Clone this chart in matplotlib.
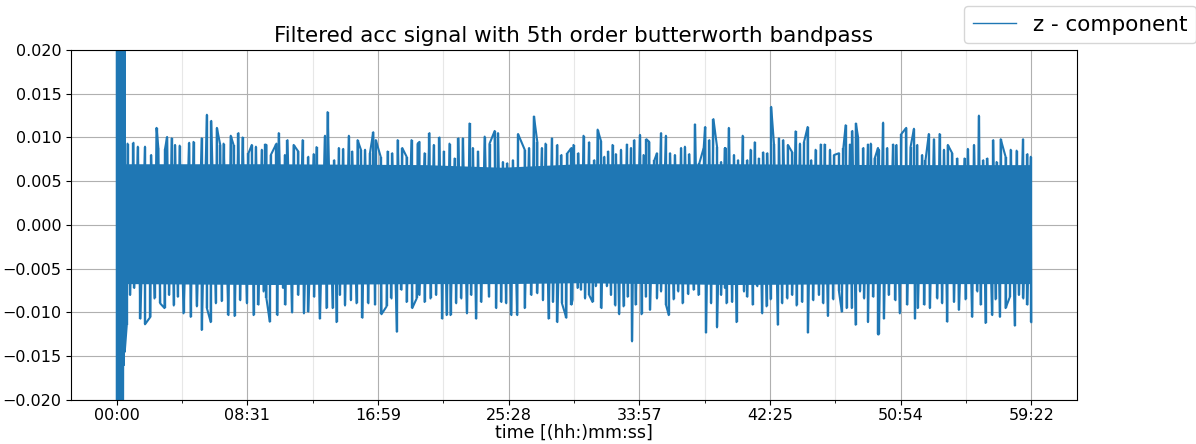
import numpy as np
import matplotlib
matplotlib.use("Agg")
import matplotlib.pyplot as plt

# time axis (seconds) and tick labels
t_end = 3562
tick_labels = ["00:00", "08:31", "16:59", "25:28", "33:57", "42:25", "50:54", "59:22"]

# start-up transient (values in 1e-3, clipped by the y limits)
t_trans = [0, 8, 16, 24, 28, 31]
trans_hi = [30, 30, 30, 30, 30, 30]
trans_lo = [-30, -30, -30, -30, -16, -14.5]

# dense core of the signal (1e-3)
t_core = [31, 600, 1200, 1500, 1800, 2400, 3000, 3562]
core_hi = [7.0, 7.0, 6.9, 6.6, 7.0, 7.0, 6.9, 6.9]
core_lo = [-6.7, -6.8, -6.7, -6.7, -6.6, -6.8, -6.7, -6.7]

# positive peaks (s, 1e-3)
t_up = [42, 65, 82, 110, 134, 155, 162, 188, 196, 214, 227, 245, 282, 299, 331, 351, 368, 390,
        403, 416, 444, 455, 474, 490, 513, 526, 542, 565, 578,
        583, 600, 622, 631, 655, 665, 689, 707, 724, 746, 767, 778, 811, 821, 847, 865, 882, 904,
        917, 938, 951, 967, 986, 999, 1009, 1028, 1055, 1073, 1094, 1112, 1129, 1148, 1172,
        1179, 1199, 1218, 1235, 1257, 1274, 1296, 1316, 1331, 1348, 1374, 1387, 1407, 1433, 1452,
        1472, 1485, 1504, 1521, 1543, 1563, 1589, 1606, 1625, 1638, 1656, 1670, 1695, 1716, 1732,
        1755, 1771,
        1779, 1798, 1818, 1840, 1860, 1873, 1886, 1899, 1914, 1931, 1944, 1964, 1987, 2003, 2016,
        2038, 2052, 2063, 2074, 2094, 2104, 2120, 2139, 2155, 2174, 2198, 2213, 2230, 2252, 2269,
        2286, 2292, 2308, 2324, 2338, 2354, 2369,
        2371, 2384, 2404, 2420, 2438, 2456, 2469, 2485, 2501, 2518, 2534, 2549, 2560, 2579, 2596,
        2614, 2631, 2644, 2661, 2677, 2691, 2705, 2722, 2742, 2757, 2778, 2794, 2813, 2830, 2839,
        2856, 2865, 2879, 2887, 2908, 2926, 2937, 2952, 2965,
        2968, 2985, 3001, 3024, 3037, 3056, 3075, 3092, 3105, 3118, 3137, 3150, 3163, 3183, 3205,
        3222, 3237, 3254, 3274, 3302, 3315, 3339, 3358, 3375, 3391, 3414, 3427, 3443, 3462, 3482,
        3505, 3530, 3547, 3560]
v_up = [9.3, 9.4, 8.95, 8.95, 8.0, 11.1, 8.8, 8.7, 10.06, 9.9, 9.15, 9.07, 9.4, 9.5, 9.9, 12.6, 11.9, 11.1,
        9.15, 9.3, 10.2, 9.15, 10.5, 10.0, 8.2, 9.15, 8.95, 8.6, 9.2,
        9.15, 8.0, 9.3, 10.5, 8.0, 9.7, 9.15, 8.4, 9.7, 7.8, 8.1, 8.9, 10.2, 12.9, 7.4, 8.8, 8.7, 10.2,
        8.4, 9.7, 8.6, 8.6, 8.2, 10.6, 9.7, 7.8, 8.4, 8.2, 9.7, 8.8, 7.8, 9.7, 9.3,
        9.5, 8.2, 10.5, 9.15, 10.0, 8.4, 9.3, 7.6, 9.9, 9.9, 11.6, 8.8, 8.4, 10.1, 9.3,
        10.75, 10.5, 7.2, 7.05, 7.4, 10.4, 8.6, 8.8, 12.4, 9.5, 8.8, 9.3, 9.9, 9.15, 8.0,
        8.2, 8.8,
        9.15, 8.2, 10.2, 9.45, 7.4, 10.9, 9.6, 7.8, 8.4, 9.15, 8.1, 8.6, 9.2, 8.8, 9.7,
        10.3, 8.0, 9.8, 9.5, 7.4, 8.2, 10.5, 10.2, 8.2, 8.0, 8.8, 8.95, 8.1, 11.5, 7.05,
        8.8, 11.2, 9.7, 12.1, 8.95, 7.2, 8.8,
        8.8, 11.1, 8.0, 7.4, 10.2, 7.4, 8.6, 9.45, 7.6, 8.3, 8.2, 13.5, 9.2, 9.9, 9.7,
        9.15, 8.3, 10.7, 9.3, 9.5, 11.2, 7.4, 8.6, 9.2, 9.2, 8.6, 8.0, 8.2, 8.8, 11.4,
        9.2, 10.75, 11.6, 10.1, 8.8, 9.2, 9.3, 7.6, 8.8,
        8.6, 11.7, 8.8, 9.2, 9.15, 10.4, 11.1, 8.95, 11.0, 9.15, 8.0, 7.4, 10.4, 9.8, 10.4,
        8.6, 9.15, 8.2, 7.6, 7.6, 8.7, 9.15, 12.5, 7.4, 7.6, 9.7, 7.2, 9.8, 7.8, 8.6,
        8.5, 9.8, 8.1, 7.8]

# negative peaks (s, 1e-3)
t_lo = [39, 52, 68, 92, 110, 131, 147, 169, 186, 204, 222, 238, 260, 288, 312, 331, 351, 366,
        386, 409, 435, 459, 481, 507, 533, 552, 572,
        583, 596, 626, 648, 657, 683, 707, 729, 746, 769, 791, 817, 841, 856, 869, 889, 912, 934,
        957, 980, 1006, 1031, 1051, 1070, 1091, 1109, 1129, 1151, 1168,
        1179, 1199, 1222, 1244, 1268, 1285, 1300, 1322, 1342, 1364, 1381, 1400, 1420, 1450, 1478,
        1498, 1517, 1537, 1560, 1589, 1615, 1638, 1660, 1682, 1699, 1716, 1734, 1751, 1771,
        1775, 1795, 1808, 1824, 1840, 1853, 1866, 1888, 1909, 1925, 1942, 1957, 1974, 1990, 2007,
        2021, 2044, 2061, 2077, 2104, 2120, 2139, 2150, 2169, 2187, 2204, 2226, 2247, 2266, 2295,
        2315, 2338, 2354, 2369,
        2375, 2397, 2414, 2427, 2443, 2456, 2477, 2495, 2514, 2531, 2547, 2575, 2592, 2612, 2631,
        2648, 2670, 2692, 2713, 2735, 2752, 2770, 2791, 2813, 2824, 2843, 2863, 2878, 2895, 2911,
        2926, 2947, 2965,
        2968, 2988, 3007, 3033, 3050, 3079, 3109, 3120, 3146, 3167, 3196, 3215, 3235, 3261, 3280,
        3306, 3332, 3352, 3365, 3384, 3410, 3423, 3440, 3462, 3479, 3498, 3514, 3531, 3547, 3562]
v_lo = [-11.4, -8.0, -7.2, -10.7, -11.35, -10.5, -8.4, -8.95, -9.5, -8.0, -9.2, -8.2, -10.1, -10.5,
        -9.3, -12.0, -9.5, -11.1, -8.95, -8.7, -10.3, -10.4, -8.6, -8.95, -10.3, -9.1, -7.6,
        -8.4, -11.05, -10.3, -7.2, -9.1, -10.0, -8.0, -10.1, -9.9, -8.2, -10.7, -9.5, -9.5, -11.1,
        -8.0, -9.2, -8.6, -8.95, -10.6, -8.95, -9.1, -10.2, -9.3, -8.4, -12.2, -7.4, -8.8, -9.5, -8.4,
        -8.0, -8.8, -8.4, -8.0, -10.7, -10.3, -10.3, -8.95, -8.4, -10.1, -8.0, -10.7, -8.8, -8.2,
        -9.5, -8.8, -8.95, -10.3, -10.3, -9.5, -8.0, -7.8, -8.6, -10.7, -8.8, -11.1, -8.95, -10.6,
        -9.1,
        -8.6, -7.2, -7.4, -8.4, -8.0, -8.8, -7.0, -9.5, -7.0, -8.0, -9.2, -10.2, -9.3, -8.2, -13.3,
        -9.1, -10.2, -8.2, -9.7, -8.4, -7.6, -9.1, -10.3, -8.5, -7.6, -8.95, -7.9, -7.4, -8.0, -12.3,
        -8.95, -11.7, -8.0, -7.2,
        -8.95, -8.8, -11.1, -6.7, -7.6, -8.2, -9.1, -7.0, -10.1, -9.3, -8.5, -11.4, -8.95, -8.4, -8.0,
        -9.2, -8.8, -12.3, -8.6, -8.0, -8.95, -10.4, -8.5, -7.6, -9.9, -9.5, -9.5, -11.4, -7.6, -8.4,
        -11.1, -8.2, -12.5,
        -12.5, -10.7, -8.0, -8.6, -10.1, -9.1, -10.7, -9.5, -9.1, -9.5, -8.4, -8.95, -11.05, -8.8, -9.7,
        -8.5, -10.5, -7.6, -9.1, -11.2, -10.3, -8.5, -10.5, -9.5, -8.2, -11.5, -8.0, -8.4, -9.1, -11.1]

scale = 1e-3
c = "#1f77b4"

# merge peaks into one time-ordered trace
t_all = np.concatenate([t_trans, t_trans, t_up, t_lo])
v_all = np.concatenate([trans_hi, trans_lo, v_up, v_lo]) * scale
order = np.argsort(t_all, kind="stable")

fig = plt.figure(figsize=(11.96, 4.44), dpi=100)
ax = fig.add_axes([0.0594, 0.0991, 0.8411, 0.7883])

ax.fill_between(t_trans, np.array(trans_lo) * scale, np.array(trans_hi) * scale,
                color=c, lw=0)
ax.fill_between(t_core, np.array(core_lo) * scale, np.array(core_hi) * scale,
                color=c, lw=0)
ax.plot(t_all[order], v_all[order], color=c, lw=1.5, label="z - component")
ax.vlines(t_up, 0, np.array(v_up) * scale, color=c, lw=1.7)
ax.vlines(t_lo, np.array(v_lo) * scale, 0, color=c, lw=1.7)

ax.set_ylim(-0.02, 0.02)
ax.set_xlim(-0.05 * t_end, 1.05 * t_end)
ticks = np.linspace(0, t_end, len(tick_labels))
ax.set_xticks(ticks)
ax.set_xticklabels(tick_labels)
ax.set_xticks((ticks[:-1] + ticks[1:]) / 2, minor=True)
ax.set_yticks(np.arange(-0.02, 0.0201, 0.005))
ax.tick_params(labelsize=11.5)
ax.tick_params(axis="x", pad=2.5)

ax.grid(which="major", color="#b0b0b0", lw=0.8)
ax.grid(which="minor", axis="x", color="#b0b0b0", alpha=0.3, lw=0.8)
ax.set_axisbelow(True)

ax.set_title("Filtered acc signal with 5th order butterworth bandpass", fontsize=15.5)
ax.set_xlabel("time [(hh:)mm:ss]", fontsize=12.5, labelpad=0)

leg = fig.legend(loc="upper right", bbox_to_anchor=(1.0, 0.9865), borderaxespad=0,
                 fontsize=15.5)
for line in leg.get_lines():
    line.set_linewidth(1.0)

fig.savefig("out.png", dpi=100)
